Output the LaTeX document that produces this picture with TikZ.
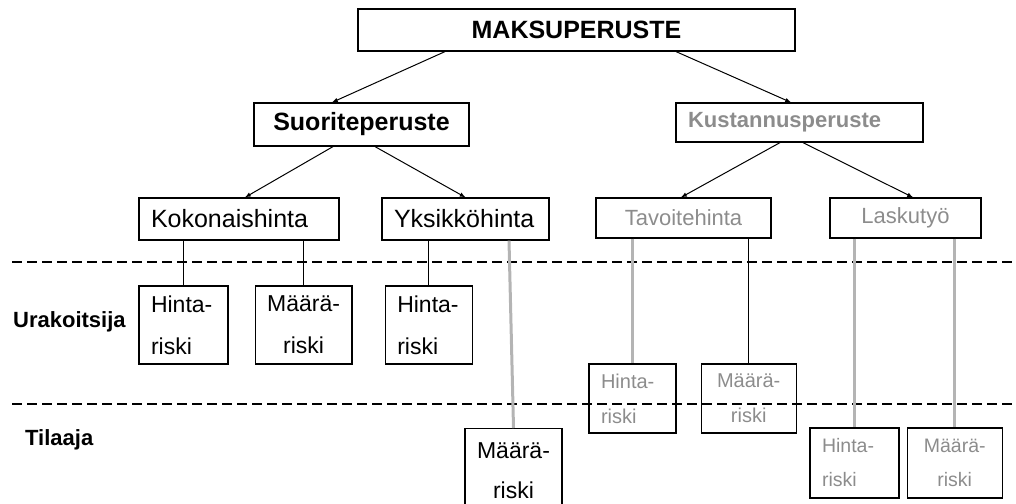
\documentclass[tikz,border=0pt]{standalone}
\usepackage{fontspec}
\setmainfont{Liberation Sans}
\usepackage{xcolor}
\usepackage{tikz}
\usetikzlibrary{arrows,
                positioning}
\definecolor{textgray}{HTML}{8C8C8C}
\definecolor{linegray}{HTML}{B4B4B4}
\tikzstyle{box} = [draw, line width=1.2pt, inner sep=0pt, font=\fontsize{25}{30}\selectfont]
\tikzstyle{leftbox} = [box, align=left, inner xsep=12pt]
\tikzstyle{graybox} = [box, text=textgray, font=\fontsize{22}{26}\selectfont]
\tikzstyle{riskbox} = [draw, line width=1.2pt, inner ysep=0pt, inner xsep=12pt, font=\fontsize{23}{42}\selectfont]
\tikzstyle{grayrisk} = [riskbox, text=textgray, font=\fontsize{20}{35}\selectfont]
\tikzstyle{sidelabel} = [anchor=west, inner sep=0pt, font=\bfseries\fontsize{22}{26}\selectfont]
\tikzstyle{arrow} = [line width=1pt,->,>=latex]
\tikzstyle{stem} = [line width=1.2pt]
\tikzstyle{graystem} = [line width=3pt, draw=linegray]
\tikzstyle{divider} = [line width=1.5pt, dash pattern=on 10pt off 5pt]

\begin{document}
\begin{tikzpicture}[x=1pt,y=-1pt]
        \clip (0,0) rectangle (1016,503);

        \node[box, minimum width=437pt, minimum height=42pt] (mak) at (576.5,30) {\textbf{MAKSUPERUSTE}};
        \node[box, minimum width=215pt, minimum height=43pt] (suor) at (361.5,124.5) {\textbf{Suoriteperuste}};
        \node[graybox, text width=223pt, inner xsep=12pt, align=left, minimum height=39pt] (kust) at (799.5,122.5) {\textbf{Kustannusperuste}};
        \node[leftbox, text width=176pt, minimum height=42pt] (kok) at (239,219) {Kokonaishinta};
        \node[leftbox, text width=143pt, minimum height=42pt] (yks) at (465.5,219) {Yksikköhinta};
        \node[graybox, minimum width=175pt, minimum height=40pt] (tav) at (683.5,218) {Tavoitehinta};
        \node[graybox, minimum width=151pt, minimum height=40pt] (lask) at (905.5,218) {Laskutyö};

        \draw[divider] (12,262) -- (1016,262);
        \draw[divider] (12,404) -- (1016,404);
        \node[sidelabel] (urak) at (13,322) {Urakoitsija};
        \node[sidelabel] (tila) at (25,440) {Tilaaja};

        \node[riskbox, align=left, text width=65pt, minimum height=78pt] (hr1) at (183.5,325) {Hinta-\\riski};
        \node[riskbox, align=center, minimum width=96pt, minimum height=78pt, right=26pt of hr1] (mr1) {Määrä-\\riski};
        \node[riskbox, align=left, text width=63pt, minimum height=78pt, right=32pt of mr1] (hr2) {Hinta-\\riski};
        \node[riskbox, align=center, minimum width=95pt, minimum height=84pt, font=\fontsize{23}{40}\selectfont, anchor=north] (tm) at (513.5,428) {Määrä-\\riski};
        \node[grayrisk, align=left, text width=63pt, minimum height=69pt] (thr) at (632.5,398.5) {Hinta-\\riski};
        \node[grayrisk, align=center, minimum width=95pt, minimum height=69pt, right=24pt of thr] (tmr) {Määrä-\\riski};
        \node[grayrisk, align=left, text width=65pt, minimum height=70pt, font=\fontsize{19.5}{34}\selectfont] (lhr) at (854.5,463) {Hinta-\\riski};
        \node[grayrisk, align=center, minimum width=95pt, minimum height=70pt, font=\fontsize{19.5}{34}\selectfont, right=7pt of lhr] (lmr) {Määrä-\\riski};

        \draw[arrow] ([xshift=-131.5pt]mak.south) -- ([xshift=-29.5pt]suor.north);
        \draw[arrow] ([xshift=99.5pt]mak.south) -- ([xshift=-8.5pt]kust.north);
        \draw[arrow] ([xshift=-28.5pt]suor.south) -- ([xshift=6pt]kok.north);
        \draw[arrow] ([xshift=13.5pt]suor.south) -- (yks.north);
        \draw[arrow] ([xshift=-19.5pt]kust.south) -- ([xshift=-2.5pt]tav.north);
        \draw[arrow] ([xshift=3.5pt]kust.south) -- ([xshift=7.5pt]lask.north);

        \draw[stem] (hr1.north |- kok.south) -- (hr1.north);
        \draw[stem] (mr1.north |- kok.south) -- (mr1.north);
        \draw[stem] (hr2.north |- yks.south) -- (hr2.north);
        \draw[graystem] ([xshift=43.5pt]yks.south) -- (tm.north);
        \draw[graystem] (thr.north |- tav.south) -- (thr.north);
        \draw[stem] (tmr.north |- tav.south) -- (tmr.north);
        \draw[graystem] (lhr.north |- lask.south) -- (lhr.north);
        \draw[graystem] (lmr.north |- lask.south) -- (lmr.north);
    \end{tikzpicture}
\end{document}
